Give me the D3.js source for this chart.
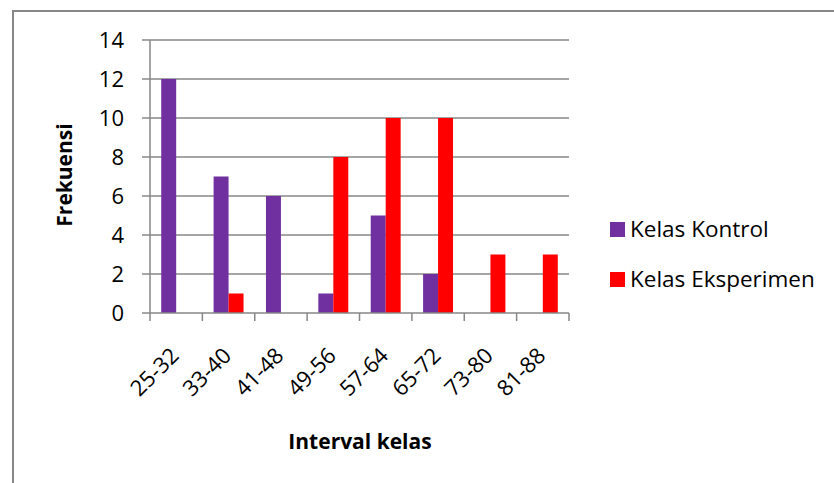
<!DOCTYPE html>
<html>
<head>
<meta charset="utf-8">
<script src="https://cdn.jsdelivr.net/npm/d3@7"></script>
<style>
  body { margin: 0; background: #fff; }
  svg { display: block; font-family: "Open Sans", sans-serif; }
</style>
</head>
<body>
<svg width="834" height="483"></svg>
<script>
var categories = ["25-32", "33-40", "41-48", "49-56", "57-64", "65-72", "73-80", "81-88"];
var seriesNames = ["Kelas Kontrol", "Kelas Eksperimen"];
var kontrol = [12, 7, 6, 1, 5, 2, 0, 0];
var eksperimen = [0, 1, 0, 8, 10, 10, 3, 3];
var yTicks = [0, 2, 4, 6, 8, 10, 12, 14];
var colors = ["#7030A0", "#FF0000"];

var svg = d3.select("svg");
var plot = { left: 150, right: 569, top: 40, bottom: 313 };

// chart border (only top and left visible in the crop)
svg.append("path")
  .attr("d", "M13,490V11H840")
  .attr("fill", "none")
  .attr("stroke", "#878787")
  .attr("stroke-width", 2);

var y = d3.scaleLinear().domain([0, 14]).range([plot.bottom, plot.top]);
var x = d3.scaleBand().domain(categories).range([plot.left, plot.right]);
var xSub = d3.scaleBand().domain(seriesNames)
  .range([0, x.bandwidth()])
  .paddingInner(0)
  .paddingOuter(0.75);

// gridlines
svg.append("g")
  .selectAll("line")
  .data(yTicks.slice(1))
  .enter()
  .append("line")
  .attr("x1", plot.left - 8)
  .attr("x2", plot.right)
  .attr("y1", function (d) { return y(d); })
  .attr("y2", function (d) { return y(d); })
  .attr("stroke", "#878787")
  .attr("stroke-width", 1.5);

// bars
var rows = categories.map(function (c, i) {
  return { cat: c, values: [kontrol[i], eksperimen[i]] };
});
var groups = svg.append("g")
  .selectAll("g")
  .data(rows)
  .enter()
  .append("g")
  .attr("transform", function (d) { return "translate(" + x(d.cat) + ",0)"; });

groups.selectAll("rect")
  .data(function (d) {
    return d.values.map(function (v, j) { return { s: seriesNames[j], v: v, j: j }; });
  })
  .enter()
  .filter(function (d) { return d.v > 0; })
  .append("rect")
  .attr("x", function (d) { return xSub(d.s); })
  .attr("width", xSub.bandwidth())
  .attr("y", function (d) { return y(d.v); })
  .attr("height", function (d) { return y(0) - y(d.v); })
  .attr("fill", function (d) { return colors[d.j]; });

// y axis
var yAxis = svg.append("g");
yAxis.append("line")
  .attr("x1", plot.left).attr("x2", plot.left)
  .attr("y1", plot.top).attr("y2", plot.bottom)
  .attr("stroke", "#878787").attr("stroke-width", 1.5);
yAxis.append("line")
  .attr("x1", plot.left - 8).attr("x2", plot.left)
  .attr("y1", y(0)).attr("y2", y(0))
  .attr("stroke", "#878787").attr("stroke-width", 1.5);
yAxis.selectAll("text")
  .data(yTicks)
  .enter()
  .append("text")
  .attr("x", 124)
  .attr("y", function (d) { return y(d); })
  .attr("dy", "0.36em")
  .attr("text-anchor", "end")
  .style("font-size", "22px")
  .attr("fill", "#000")
  .text(function (d) { return d; });

// x axis
var xAxis = svg.append("g");
xAxis.append("line")
  .attr("x1", plot.left).attr("x2", plot.right)
  .attr("y1", plot.bottom).attr("y2", plot.bottom)
  .attr("stroke", "#878787").attr("stroke-width", 1.5);
var edges = categories.map(function (c) { return x(c); }).concat([plot.right]);
xAxis.selectAll("line.tick")
  .data(edges)
  .enter()
  .append("line")
  .attr("class", "tick")
  .attr("x1", function (d) { return d; })
  .attr("x2", function (d) { return d; })
  .attr("y1", plot.bottom)
  .attr("y2", plot.bottom + 8)
  .attr("stroke", "#878787").attr("stroke-width", 1.5);
xAxis.selectAll("text")
  .data(categories)
  .enter()
  .append("text")
  .attr("transform", function (d) {
    return "translate(" + (x(d) + x.bandwidth() / 2 + 4) + ",357) rotate(-45)";
  })
  .attr("text-anchor", "end")
  .style("font-size", "22px")
  .attr("fill", "#000")
  .text(function (d) { return d; });

// axis titles
svg.append("text")
  .attr("transform", "translate(72,175) rotate(-90)")
  .attr("text-anchor", "middle")
  .style("font-size", "21px")
  .style("font-weight", "bold")
  .text("Frekuensi");

svg.append("text")
  .attr("x", 360)
  .attr("y", 449)
  .attr("text-anchor", "middle")
  .style("font-size", "21px")
  .style("font-weight", "bold")
  .text("Interval kelas");

// legend
var legend = svg.append("g")
  .selectAll("g")
  .data(seriesNames)
  .enter()
  .append("g")
  .attr("transform", function (d, i) { return "translate(610," + (222 + i * 50) + ")"; });
legend.append("rect")
  .attr("width", 15).attr("height", 15)
  .attr("fill", function (d, i) { return colors[i]; });
legend.append("text")
  .attr("x", 20)
  .attr("y", 15)
  .style("font-size", "22.5px")
  .text(function (d) { return d; });
</script>
</body>
</html>
